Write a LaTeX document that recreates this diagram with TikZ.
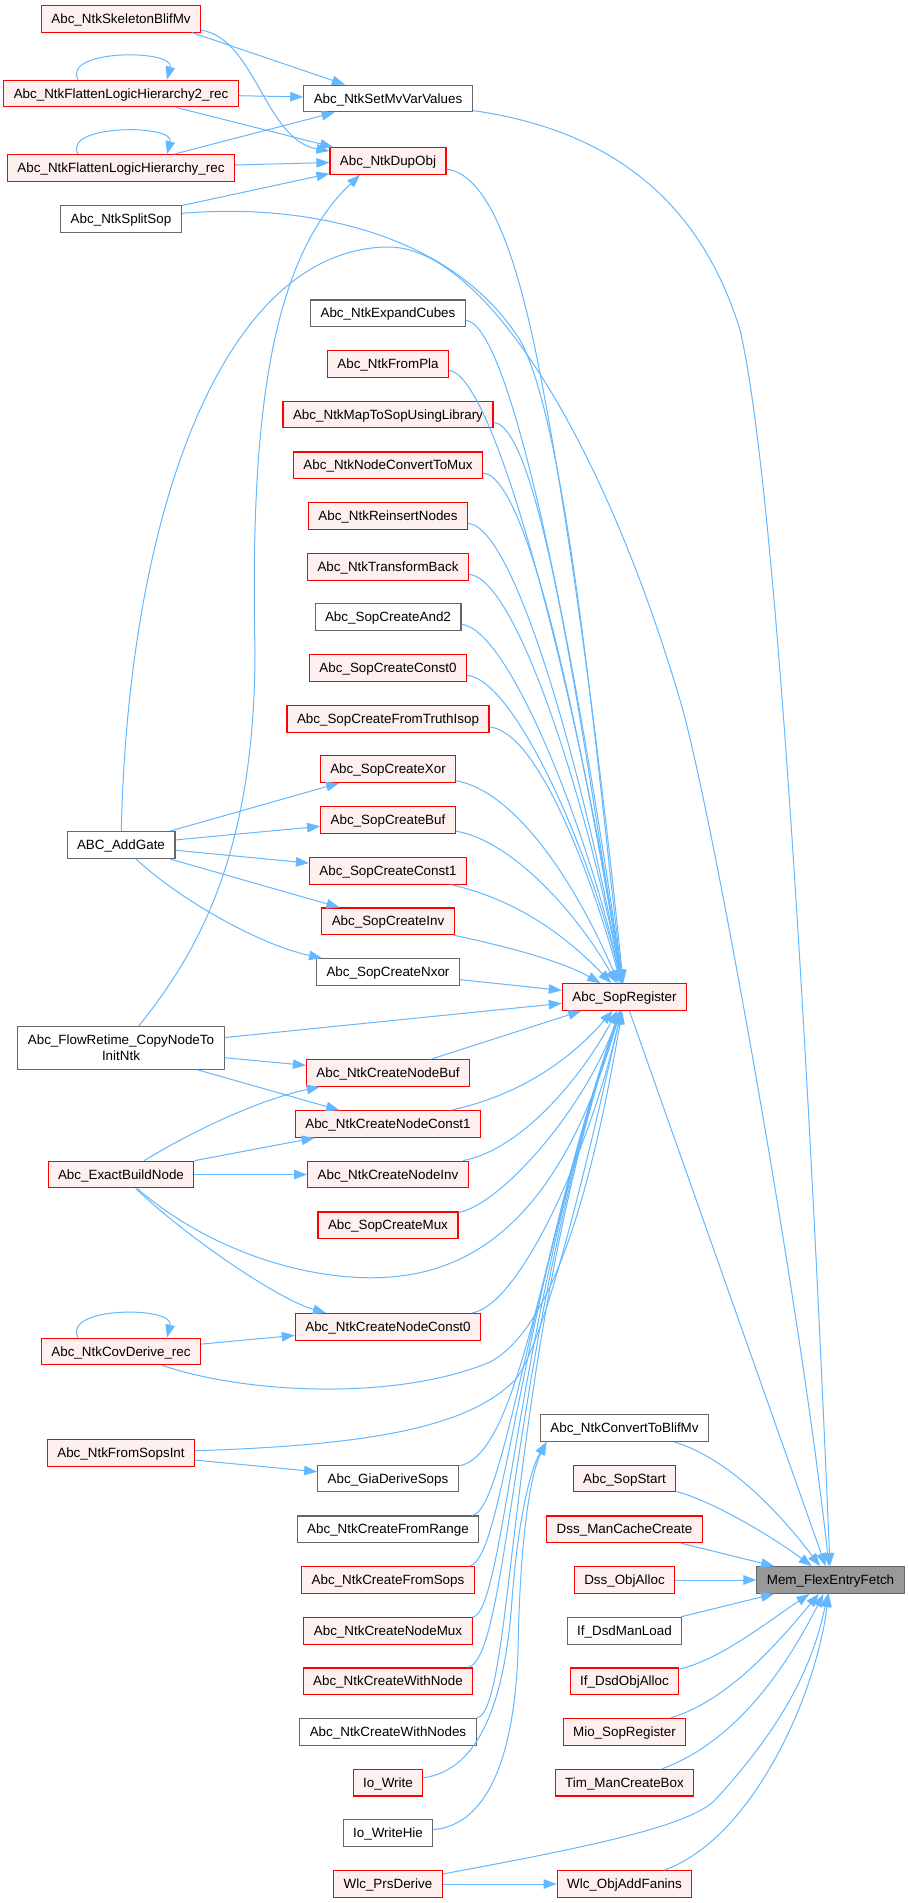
\documentclass[tikz,border=0pt]{standalone}
\usepackage{fontspec}
\setmainfont{Liberation Sans}
\usetikzlibrary{arrows.meta}
\definecolor{dx_red}{RGB}{255, 0, 0}
\definecolor{dx_pink}{RGB}{255, 240, 240}
\definecolor{dx_grey}{RGB}{102, 102, 102}
\definecolor{dx_hl}{RGB}{153, 153, 153}
\definecolor{dx_blue}{RGB}{99, 184, 255}
\tikzstyle{fn}=[rectangle,draw,line width=1.1pt,inner xsep=10pt,inner ysep=0pt,
  minimum height=26.7pt,text height=10.2pt,text depth=1pt,font=\fontsize{13.4}{16}\selectfont]
\tikzstyle{rn}=[fn,fill=dx_pink,draw=dx_red]
\tikzstyle{wn}=[fn,fill=white,draw=dx_grey]
\tikzstyle{hn}=[fn,fill=dx_hl,draw=dx_grey]
\tikzstyle{bn}=[rectangle,fill=white,draw=dx_grey,line width=1.1pt,inner xsep=10pt,inner ysep=0pt,
  minimum height=42.3pt,align=center,font=\fontsize{13.4}{16}\selectfont]
\tikzstyle{cl}=[draw=dx_blue,line width=1pt,-{Triangle[length=13pt,width=9.5pt]}]

\begin{document}
\begin{tikzpicture}[x=1pt,y=-1pt]
    \fill [white] (0,0) rectangle (909,1903);
    \useasboundingbox (0,0) rectangle (909,1903);
    \node [style=rn] (skel) at (121,18.7) {Abc\_NtkSkeletonBlifMv};
    \node [style=rn] (flat2) at (121,93.5) {Abc\_NtkFlattenLogicHierarchy2\_rec};
    \node [style=rn] (flat) at (121,168) {Abc\_NtkFlattenLogicHierarchy\_rec};
    \node [style=wn] (split) at (121,218.7) {Abc\_NtkSplitSop};
    \node [style=wn] (addg) at (121,845) {ABC\_AddGate};
    \node [style=bn] (flow) at (121,1048) {Abc\_FlowRetime\_CopyNodeTo\\InitNtk};
    \node [style=rn] (exact) at (121,1174.5) {Abc\_ExactBuildNode};
    \node [style=rn] (cov) at (121,1351.5) {Abc\_NtkCovDerive\_rec};
    \node [style=rn] (fsi) at (121,1453) {Abc\_NtkFromSopsInt};
    \node [style=wn] (setmv) at (388,98.5) {Abc\_NtkSetMvVarValues};
    \node [style=rn] (dup) at (388,161) {Abc\_NtkDupObj};
    \node [style=wn] (expand) at (388,313.3) {Abc\_NtkExpandCubes};
    \node [style=rn] (frompla) at (388,363.8) {Abc\_NtkFromPla};
    \node [style=rn] (mapsop) at (388,414.5) {Abc\_NtkMapToSopUsingLibrary};
    \node [style=rn] (cvtmux) at (388,465.3) {Abc\_NtkNodeConvertToMux};
    \node [style=rn] (reins) at (388,515.8) {Abc\_NtkReinsertNodes};
    \node [style=rn] (trback) at (388,566.7) {Abc\_NtkTransformBack};
    \node [style=wn] (and2) at (388,617.2) {Abc\_SopCreateAnd2};
    \node [style=rn] (const0) at (388,667.8) {Abc\_SopCreateConst0};
    \node [style=rn] (truth) at (388,718.7) {Abc\_SopCreateFromTruthIsop};
    \node [style=rn] (xor) at (388,769.2) {Abc\_SopCreateXor};
    \node [style=rn] (buf) at (388,820) {Abc\_SopCreateBuf};
    \node [style=rn] (const1) at (388,870.7) {Abc\_SopCreateConst1};
    \node [style=rn] (inv) at (388,921.3) {Abc\_SopCreateInv};
    \node [style=wn] (nxor) at (388,972) {Abc\_SopCreateNxor};
    \node [style=rn] (nbuf) at (388,1073) {Abc\_NtkCreateNodeBuf};
    \node [style=rn] (nconst1) at (388,1124) {Abc\_NtkCreateNodeConst1};
    \node [style=rn] (ninv) at (388,1174.5) {Abc\_NtkCreateNodeInv};
    \node [style=rn] (mux) at (388,1225.3) {Abc\_SopCreateMux};
    \node [style=rn] (nconst0) at (388,1326.8) {Abc\_NtkCreateNodeConst0};
    \node [style=wn] (gia) at (388,1478.5) {Abc\_GiaDeriveSops};
    \node [style=wn] (range) at (388,1529.3) {Abc\_NtkCreateFromRange};
    \node [style=rn] (fsops) at (388,1580) {Abc\_NtkCreateFromSops};
    \node [style=rn] (nmux) at (388,1630.7) {Abc\_NtkCreateNodeMux};
    \node [style=rn] (wnode) at (388,1681.3) {Abc\_NtkCreateWithNode};
    \node [style=wn] (wnodes) at (388,1731.8) {Abc\_NtkCreateWithNodes};
    \node [style=rn] (iow) at (388,1782.6) {Io\_Write};
    \node [style=wn] (iowh) at (388,1833.2) {Io\_WriteHie};
    \node [style=rn] (prs) at (388,1884) {Wlc\_PrsDerive};
    \node [style=rn] (sopreg) at (624.5,997) {Abc\_SopRegister};
    \node [style=wn] (blifmv) at (624.5,1428) {Abc\_NtkConvertToBlifMv};
    \node [style=rn] (sopstart) at (624.5,1478.5) {Abc\_SopStart};
    \node [style=rn] (dsscache) at (624.5,1529.3) {Dss\_ManCacheCreate};
    \node [style=rn] (dssobj) at (624.5,1580) {Dss\_ObjAlloc};
    \node [style=wn] (ifload) at (624.5,1630.7) {If\_DsdManLoad};
    \node [style=rn] (ifobj) at (624.5,1681.3) {If\_DsdObjAlloc};
    \node [style=rn] (mio) at (624.5,1731.8) {Mio\_SopRegister};
    \node [style=rn] (tim) at (624.5,1782.6) {Tim\_ManCreateBox};
    \node [style=rn] (fanins) at (624.5,1884) {Wlc\_ObjAddFanins};
    \node [style=hn] (mem) at (830.5,1580) {Mem\_FlexEntryFetch};
    \draw [style=cl] ([xshift=-43pt]flat2.north) .. controls (62,49) and (175,49) .. ([xshift=46pt]flat2.north);
    \draw [style=cl] ([xshift=-43pt]flat.north) .. controls (62,124) and (175,124) .. ([xshift=46pt]flat.north);
    \draw [style=cl] ([xshift=-43pt]cov.north) .. controls (62,1306) and (175,1306) .. ([xshift=46pt]cov.north);
    \draw [style=cl] ([xshift=71pt]skel.south) to ([xshift=-43pt]setmv.north);
    \draw [style=cl] (skel) .. controls (255,38) and (265,140) .. (dup);
    \draw [style=cl] (flat2) to (setmv);
    \draw [style=cl] (flat2) to (dup);
    \draw [style=cl] (flat) to (setmv);
    \draw [style=cl] (flat) to (dup);
    \draw [style=cl] (split) to (dup);
    \draw [style=cl] (split) .. controls (300,203) and (450,230) .. (520,340) .. controls (570,430) and (600,800) .. (sopreg);
    \draw [style=cl] (setmv) .. controls (610,130) and (700,200) .. (740,330) .. controls (780,500) and (815,1200) .. (mem);
    \draw [style=cl] (dup) .. controls (490,175) and (520,260) .. (545,400) .. controls (575,560) and (605,800) .. (sopreg);
    \draw [style=cl] (addg) .. controls (128,520) and (220,250) .. (387,247) .. controls (480,245) and (600,430) .. (680,700) .. controls (710,800) and (800,1300) .. (mem);
    \draw [style=cl] (addg) to (xor);
    \draw [style=cl] (addg) to (buf);
    \draw [style=cl] (addg) to (const1);
    \draw [style=cl] (addg) to (inv);
    \draw [style=cl] (addg) .. controls (180,900) and (260,945) .. (nxor);
    \draw [style=cl] (expand) .. controls (516,325) and (585,715) .. (sopreg);
    \draw [style=cl] (frompla) .. controls (499,376) and (585,735) .. (sopreg);
    \draw [style=cl] (mapsop) .. controls (542,426) and (585,755) .. (sopreg);
    \draw [style=cl] (cvtmux) .. controls (532,477) and (588,776) .. (sopreg);
    \draw [style=cl] (reins) .. controls (518,528) and (588,796) .. (sopreg);
    \draw [style=cl] (trback) .. controls (519,579) and (590,817) .. (sopreg);
    \draw [style=cl] (and2) .. controls (510,629) and (590,837) .. (sopreg);
    \draw [style=cl] (const0) .. controls (516,680) and (592,857) .. (sopreg);
    \draw [style=cl] (truth) .. controls (538,731) and (592,877) .. (sopreg);
    \draw [style=cl] (xor) .. controls (510,790) and (570,870) .. (sopreg);
    \draw [style=cl] (buf) .. controls (510,840) and (575,910) .. (sopreg);
    \draw [style=cl] (const1) .. controls (520,900) and (570,940) .. (sopreg);
    \draw [style=cl] (inv) .. controls (500,945) and (560,960) .. (sopreg);
    \draw [style=cl] (nxor) to (sopreg);
    \draw [style=cl] (flow) to (sopreg);
    \draw [style=cl] (flow) to (nbuf);
    \draw [style=cl] (flow) to (nconst1);
    \draw [style=cl] (flow) .. controls (200,950) and (255,850) .. (255,650) .. controls (250,420) and (270,260) .. ([xshift=-28pt]dup.south);
    \draw [style=cl] (nbuf) to (sopreg);
    \draw [style=cl] (nconst1) .. controls (520,1095) and (570,1060) .. (sopreg);
    \draw [style=cl] (ninv) .. controls (520,1150) and (580,1080) .. (sopreg);
    \draw [style=cl] (mux) .. controls (500,1205) and (585,1110) .. (sopreg);
    \draw [style=cl] (nconst0) .. controls (520,1305) and (590,1150) .. (sopreg);
    \draw [style=cl] (exact) .. controls (220,1115) and (280,1095) .. (nbuf);
    \draw [style=cl] (exact) to (nconst1);
    \draw [style=cl] (exact) to (ninv);
    \draw [style=cl] (exact) .. controls (190,1240) and (280,1300) .. ([xshift=-62pt]nconst0.north);
    \draw [style=cl] (exact) .. controls (220,1260) and (330,1285) .. (400,1276) .. controls (520,1262) and (580,1150) .. (sopreg);
    \draw [style=cl] (cov) to (nconst0);
    \draw [style=cl] (cov) .. controls (250,1395) and (400,1400) .. (490,1362) .. controls (550,1330) and (590,1200) .. (sopreg);
    \draw [style=cl] (fsi) .. controls (380,1445) and (470,1425) .. (515,1380) .. controls (545,1345) and (590,1150) .. (sopreg);
    \draw [style=cl] (fsi) to (gia);
    \draw [style=cl] (gia) .. controls (520,1455) and (540,1250) .. (sopreg);
    \draw [style=cl] (range) .. controls (505,1510) and (530,1280) .. (sopreg);
    \draw [style=cl] (fsops) .. controls (505,1560) and (520,1300) .. (sopreg);
    \draw [style=cl] (nmux) .. controls (505,1612) and (515,1320) .. (sopreg);
    \draw [style=cl] (wnode) .. controls (510,1660) and (510,1340) .. (sopreg);
    \draw [style=cl] (wnodes) .. controls (515,1712) and (505,1360) .. (sopreg);
    \draw [style=cl] (iow) .. controls (480,1770) and (505,1700) .. (512,1600) .. controls (518,1520) and (530,1470) .. ([xshift=-78pt]blifmv.south);
    \draw [style=cl] (iowh) .. controls (490,1825) and (515,1750) .. (518,1650) .. controls (520,1540) and (530,1475) .. ([xshift=-78pt]blifmv.south);
    \draw [style=cl] (sopreg) to (mem);
    \draw [style=cl] (blifmv) .. controls (720,1455) and (770,1500) .. (mem);
    \draw [style=cl] (sopstart) .. controls (710,1500) and (770,1535) .. (mem);
    \draw [style=cl] (dsscache) to (mem);
    \draw [style=cl] (dssobj) to (mem);
    \draw [style=cl] (ifload) to (mem);
    \draw [style=cl] (ifobj) .. controls (720,1660) and (770,1620) .. (mem);
    \draw [style=cl] (mio) .. controls (730,1700) and (780,1640) .. (mem);
    \draw [style=cl] (tim) .. controls (740,1740) and (790,1660) .. (mem);
    \draw [style=cl] (fanins) .. controls (750,1840) and (815,1700) .. (mem);
    \draw [style=cl] (prs) .. controls (600,1845) and (690,1825) .. (715,1800) .. controls (770,1740) and (810,1680) .. (mem);
    \draw [style=cl] (prs) to (fanins);
\end{tikzpicture}
\end{document}
